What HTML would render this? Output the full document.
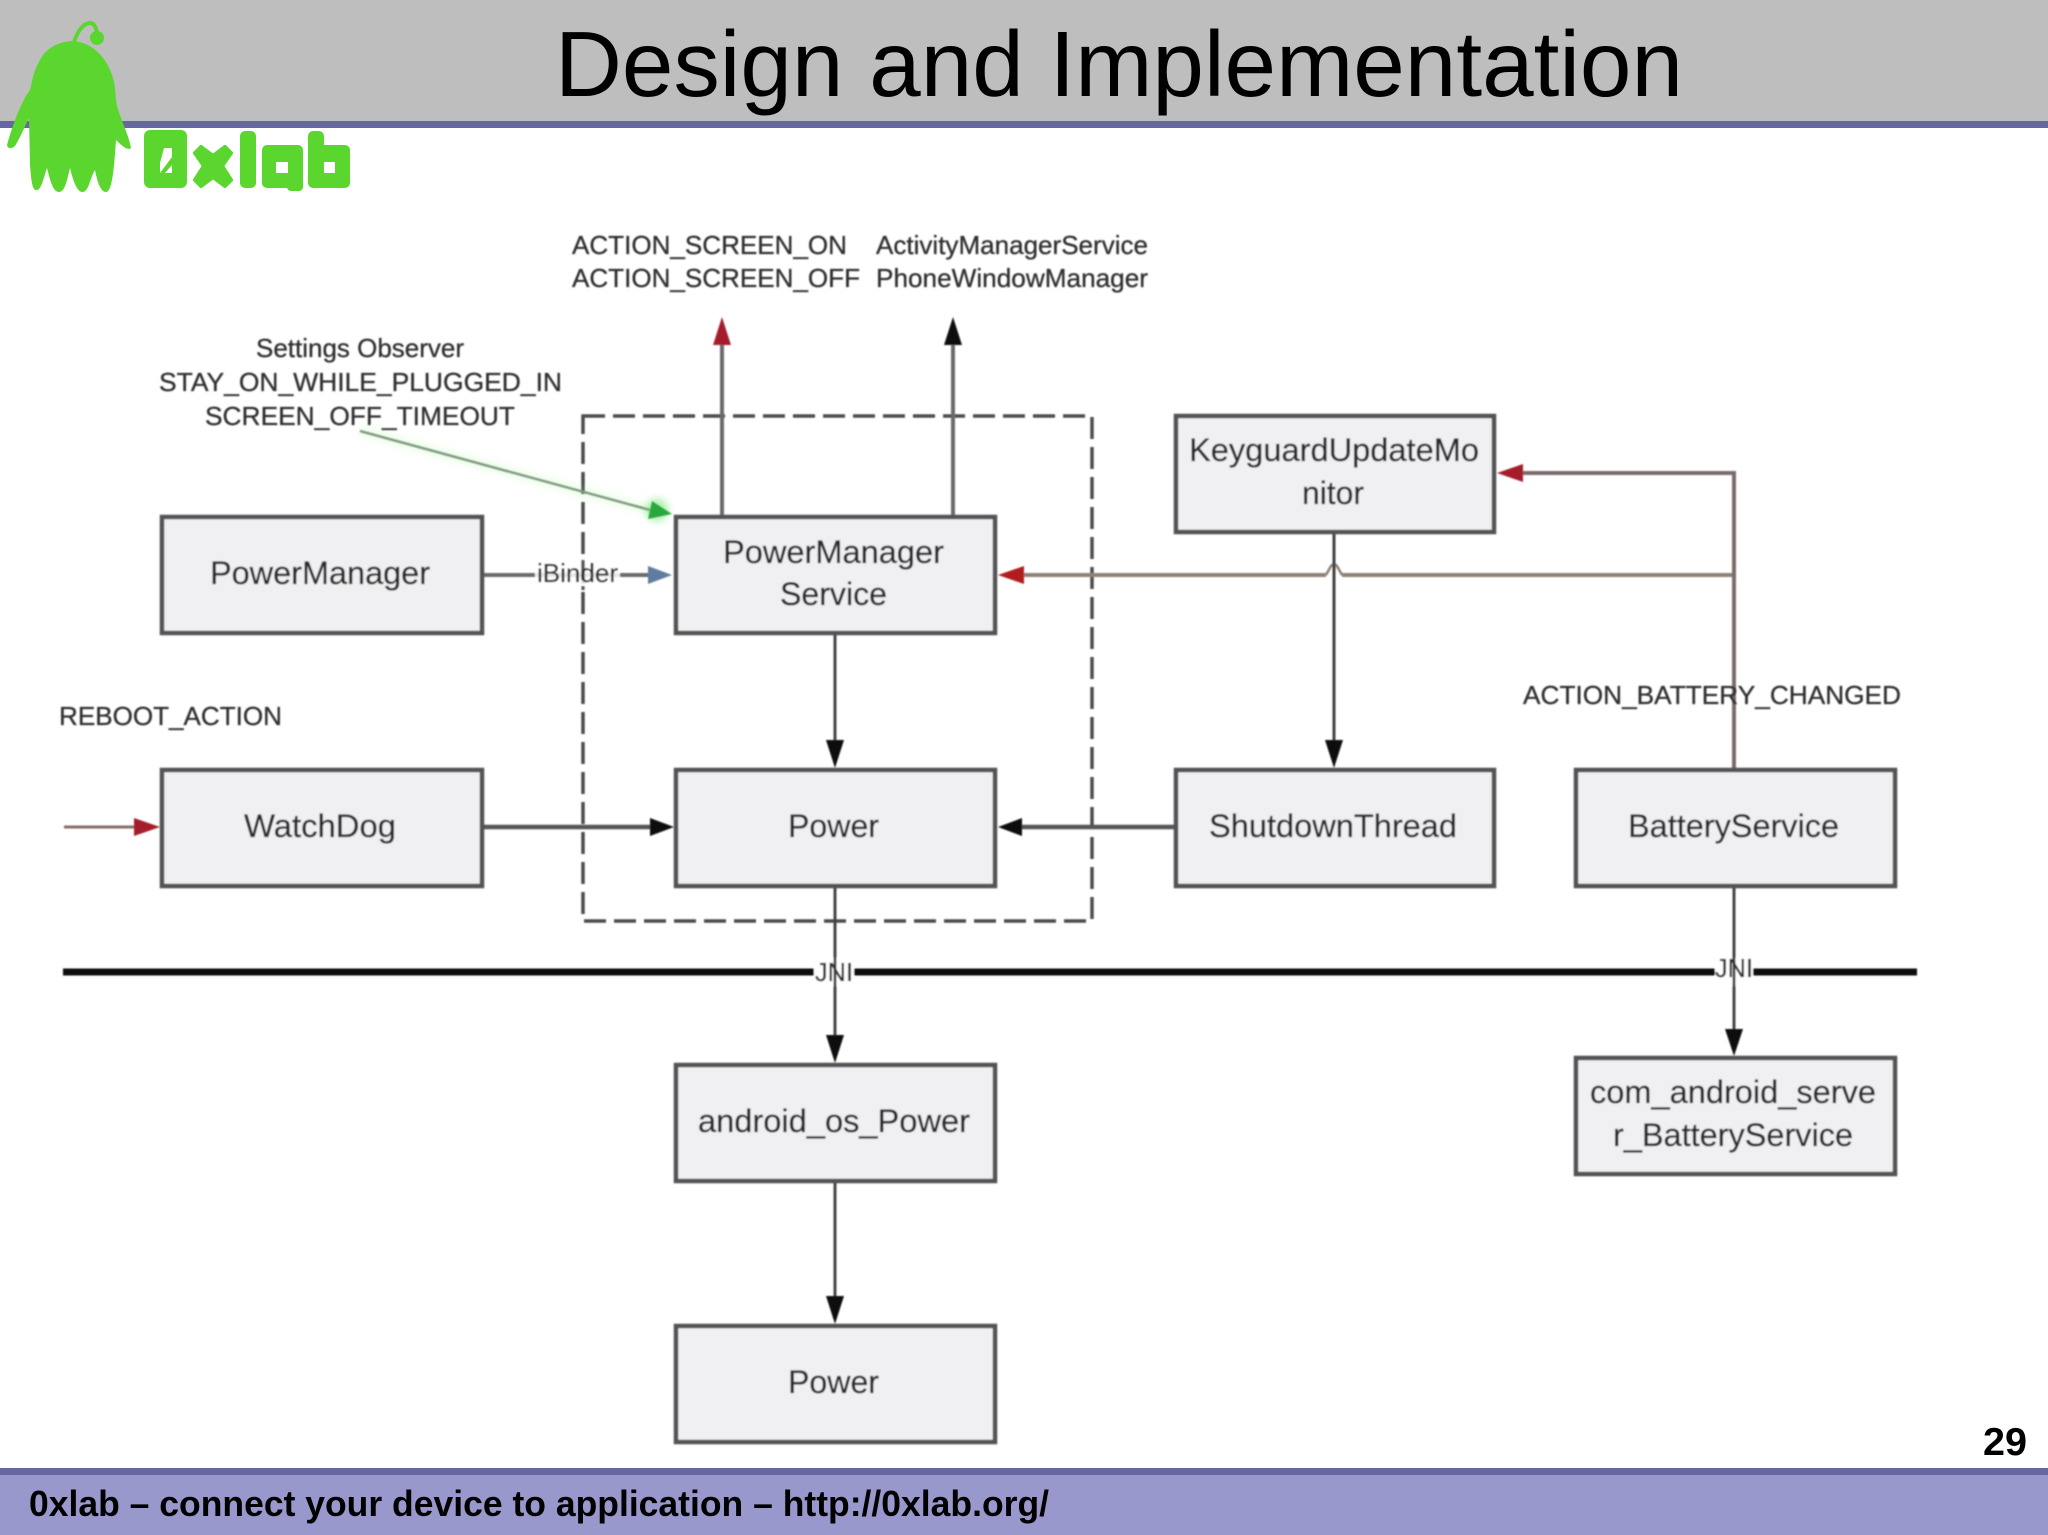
<!DOCTYPE html>
<html><head><meta charset="utf-8"><title>Design and Implementation</title>
<style>
html,body{margin:0;padding:0;background:#fff;width:2048px;height:1535px;overflow:hidden}
svg{display:block}
text{font-family:"Liberation Sans",sans-serif}
.b{fill:#f0f0f3;stroke:#525256;stroke-width:4.5}
.l{fill:none;stroke:#6a6a6a;stroke-width:4}
.t{font-size:32px;fill:#2c2c2c;stroke:#2c2c2c;stroke-width:.35}
.s{font-size:26px;fill:#2e2e2e;stroke:#2e2e2e;stroke-width:.3}
</style></head><body>
<svg width="2048" height="1535" viewBox="0 0 2048 1535" xmlns="http://www.w3.org/2000/svg">
<defs><filter id="bl" x="-2%" y="-2%" width="104%" height="104%"><feGaussianBlur stdDeviation="0.7"/></filter>
<filter id="gl" x="-50%" y="-50%" width="200%" height="200%"><feGaussianBlur stdDeviation="4"/></filter></defs>
<rect width="2048" height="1535" fill="#fff"/>
<rect width="2048" height="121" fill="#bfbebf"/>
<rect y="121" width="2048" height="7" fill="#6666a0"/>
<rect y="1468" width="2048" height="7" fill="#6666a0"/>
<rect y="1475" width="2048" height="60" fill="#9898cd"/>
<text x="555" y="96" font-size="92.6" fill="#000" textLength="1128" lengthAdjust="spacingAndGlyphs">Design and Implementation</text>
<text x="29" y="1516" font-size="36.5" font-weight="bold" fill="#000" textLength="1020" lengthAdjust="spacingAndGlyphs">0xlab – connect your device to application – http://0xlab.org/</text>
<text x="1983" y="1455" font-size="39" font-weight="bold" fill="#000" textLength="44" lengthAdjust="spacingAndGlyphs">29</text>

<!-- logo mascot -->
<path fill="#5bd62f" d="M72 41C56 42 44 50 39 62C33 72 32 82 30 90C22 100 12 126 7 145C8 150 13 148 15 146C20 138 25 126 29 118L30 165C31 178 32 190 36 190C41 191 43 180 47 168C50 180 53 192 59 192C65 192 67 180 70 168C73 180 77 193 83 192C89 191 90 178 95 170C97 180 100 192 106 192C112 192 114 170 116 140C122 146 128 151 131 148C129 136 121 120 117 106C115 96 116 88 113 78C108 60 94 42 72 41Z"/>
<path fill="none" stroke="#5bd62f" stroke-width="4" d="M74 42C78 30 84 23 90 23C94 23 96 27 97 33"/>
<circle cx="97" cy="38" r="7" fill="#5bd62f"/>
<!-- logo wordmark -->
<g fill="#5bd62f">
<rect x="144" y="130" width="43" height="58" rx="6"/>
<path d="M195 153L201 147L213 156L225 147L231 153L222 166L231 180L225 186L213 177L201 186L195 180L204 166Z" stroke="#5bd62f" stroke-width="4" stroke-linejoin="round"/>
<rect x="240" y="131" width="16" height="57" rx="5"/>
<rect x="262" y="145" width="41" height="43" rx="5"/>
<rect x="287" y="160" width="16" height="31" rx="4"/>
<rect x="308" y="131" width="16" height="30" rx="5"/>
<rect x="308" y="145" width="42" height="43" rx="5"/>
<text y="178" font-size="28" font-weight="bold" x="157 206 244 274 320">0xlab</text>
</g>
<polygon points="164,148 172,148 172,157 160,173 160,163" fill="#fff"/>
<polygon points="172,165 172,173 165,173" fill="#fff"/>
<rect x="276" y="162" width="12" height="11" fill="#fff"/>
<rect x="324" y="162" width="11" height="11" fill="#fff"/>

<g filter="url(#bl)">
<!-- dashed group -->
<rect x="583" y="416" width="509" height="505" fill="none" stroke="#4c4c4c" stroke-width="3.5" stroke-dasharray="22 8"/>

<!-- thick bus -->
<line x1="63" y1="972" x2="1917" y2="972" stroke="#101010" stroke-width="7"/>

<!-- connectors -->
<path class="l" d="M722 517V344"/>
<path class="l" d="M953 517V344"/>
<path d="M360 431L650 510" fill="none" stroke="#8ef07a" stroke-width="7" opacity=".22" filter="url(#gl)"/>
<path d="M360 431L650 510" fill="none" stroke="#7f9a7f" stroke-width="2.5"/>
<path class="l" d="M482 575H650"/>
<path d="M1023 575H1326M1342 575H1734" fill="none" stroke="#8e8278" stroke-width="4"/>
<path d="M1326 575L1331 566Q1334 563 1337 566L1342 575" fill="none" stroke="#8e7f72" stroke-width="2.5"/>
<path class="l" d="M1334 533V742" style="stroke:#3f3f3f;stroke-width:3"/>
<path class="l" d="M1734 768V473H1520" style="stroke:#7a6c6c"/>
<path class="l" d="M835 633V742" style="stroke:#444;stroke-width:3"/>
<path class="l" d="M482 827H652" style="stroke:#555;stroke-width:4.5"/>
<path class="l" d="M1175 827H1020" style="stroke:#555;stroke-width:4.5"/>
<path d="M64 827H136" fill="none" stroke="#8a6a6a" stroke-width="3"/>
<path class="l" d="M835 886V1037" style="stroke:#444;stroke-width:3"/>
<path class="l" d="M835 1182V1298" style="stroke:#444;stroke-width:3"/>
<path class="l" d="M1734 886V1032" style="stroke:#444;stroke-width:3"/>

<!-- arrowheads -->
<polygon points="722,317 713,345 731,345" fill="#a51c2c"/>
<polygon points="953,317 944,345 962,345" fill="#0c0c0c"/>
<circle cx="657" cy="510" r="11" fill="#60e060" opacity=".55" filter="url(#gl)"/>
<polygon points="672,514 648,519 652,501" fill="#2ca83c"/>
<polygon points="672,575 648,566 648,584" fill="#5f7d9e"/>
<polygon points="998,575 1024,566 1024,584" fill="#b31d1d"/>
<polygon points="1497,473 1523,464 1523,482" fill="#a51c2c"/>
<polygon points="1334,768 1325,740 1343,740" fill="#0c0c0c"/>
<polygon points="835,768 826,740 844,740" fill="#0c0c0c"/>
<polygon points="674,827 650,818 650,836" fill="#0c0c0c"/>
<polygon points="998,827 1022,818 1022,836" fill="#0c0c0c"/>
<polygon points="160,827 134,818 134,836" fill="#a51c2c"/>
<polygon points="835,1063 826,1035 844,1035" fill="#0c0c0c"/>
<polygon points="835,1324 826,1296 844,1296" fill="#0c0c0c"/>
<polygon points="1734,1056 1725,1029 1743,1029" fill="#0c0c0c"/>

<!-- boxes -->
<rect class="b" x="162" y="517" width="320" height="116"/>
<rect class="b" x="676" y="517" width="319" height="116"/>
<rect class="b" x="1176" y="416" width="318" height="116"/>
<rect class="b" x="162" y="770" width="320" height="116"/>
<rect class="b" x="676" y="770" width="319" height="116"/>
<rect class="b" x="1176" y="770" width="318" height="116"/>
<rect class="b" x="1576" y="770" width="319" height="116"/>
<rect class="b" x="676" y="1065" width="319" height="116"/>
<rect class="b" x="1576" y="1058" width="319" height="116"/>
<rect class="b" x="676" y="1326" width="319" height="116"/>

<!-- box labels -->
<text class="t" x="210" y="584" textLength="220" lengthAdjust="spacingAndGlyphs">PowerManager</text>
<text class="t" x="723" y="563" textLength="221" lengthAdjust="spacingAndGlyphs">PowerManager</text>
<text class="t" x="780" y="605" textLength="107" lengthAdjust="spacingAndGlyphs">Service</text>
<text class="t" x="1189" y="461" textLength="290" lengthAdjust="spacingAndGlyphs">KeyguardUpdateMo</text>
<text class="t" x="1302" y="504" textLength="62" lengthAdjust="spacingAndGlyphs">nitor</text>
<text class="t" x="244" y="837" textLength="152" lengthAdjust="spacingAndGlyphs">WatchDog</text>
<text class="t" x="788" y="837" textLength="91" lengthAdjust="spacingAndGlyphs">Power</text>
<text class="t" x="1209" y="837" textLength="248" lengthAdjust="spacingAndGlyphs">ShutdownThread</text>
<text class="t" x="1628" y="837" textLength="211" lengthAdjust="spacingAndGlyphs">BatteryService</text>
<text class="t" x="698" y="1132" textLength="272" lengthAdjust="spacingAndGlyphs">android_os_Power</text>
<text class="t" x="1590" y="1103" textLength="286" lengthAdjust="spacingAndGlyphs">com_android_serve</text>
<text class="t" x="1613" y="1146" textLength="240" lengthAdjust="spacingAndGlyphs">r_BatteryService</text>
<text class="t" x="788" y="1393" textLength="91" lengthAdjust="spacingAndGlyphs">Power</text>

<!-- free labels -->
<text class="s" x="572" y="254" textLength="275" lengthAdjust="spacingAndGlyphs">ACTION_SCREEN_ON</text>
<text class="s" x="572" y="287" textLength="288" lengthAdjust="spacingAndGlyphs">ACTION_SCREEN_OFF</text>
<text class="s" x="876" y="254" textLength="272" lengthAdjust="spacingAndGlyphs">ActivityManagerService</text>
<text class="s" x="876" y="287" textLength="272" lengthAdjust="spacingAndGlyphs">PhoneWindowManager</text>
<text class="s" x="256" y="357" textLength="208" lengthAdjust="spacingAndGlyphs">Settings Observer</text>
<text class="s" x="159" y="391" textLength="403" lengthAdjust="spacingAndGlyphs">STAY_ON_WHILE_PLUGGED_IN</text>
<text class="s" x="205" y="425" textLength="310" lengthAdjust="spacingAndGlyphs">SCREEN_OFF_TIMEOUT</text>
<text class="s" x="59" y="725" textLength="223" lengthAdjust="spacingAndGlyphs">REBOOT_ACTION</text>
<text class="s" x="1523" y="704" textLength="378" lengthAdjust="spacingAndGlyphs">ACTION_BATTERY_CHANGED</text>

<rect x="535" y="560" width="85" height="30" fill="#fff" opacity=".85"/>
<path d="M583 560V590" stroke="#555" stroke-width="3.5" stroke-dasharray="20 6"/>
<text class="s" x="537" y="582" textLength="81" lengthAdjust="spacingAndGlyphs">iBinder</text>

<rect x="814" y="958" width="40" height="28" fill="#fff"/>
<path d="M835 958V986" stroke="#444" stroke-width="3"/>
<text class="s" x="815" y="981" textLength="38" lengthAdjust="spacingAndGlyphs">JNI</text>
<rect x="1715" y="958" width="38" height="28" fill="#fff"/>
<path d="M1734 958V986" stroke="#444" stroke-width="3"/>
<text class="s" x="1715" y="977" textLength="38" lengthAdjust="spacingAndGlyphs">JNI</text>
</g>
</svg>
</body></html>
